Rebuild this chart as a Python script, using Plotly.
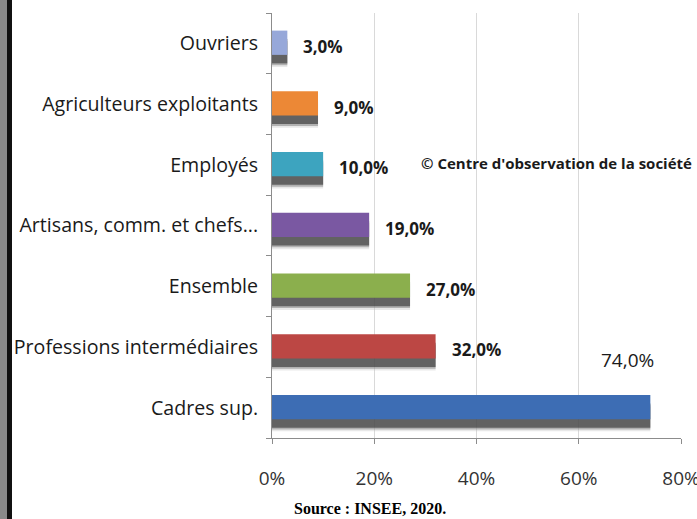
import plotly.graph_objects as go

categories = ["Cadres sup.", "Professions intermédiaires", "Ensemble",
              "Artisans, comm. et chefs...", "Employés", "Agriculteurs exploitants", "Ouvriers"]
values = [74, 32, 27, 19, 10, 9, 3]
colors = ["#3D6DB4", "#BC4744", "#8BAF4D", "#7A58A2", "#3DA4BF", "#EC8836", "#97A8D9"]
tick_vals = [0, 20, 40, 60, 80]
tick_text = ["0%", "20%", "40%", "60%", "80%"]
value_labels = ["74,0%", "32,0%", "27,0%", "19,0%", "10,0%", "9,0%", "3,0%"]

W, H = 697, 519
L, R, T, B = 272, 16, 13, 81
pw = W - L - R
ph = H - T - B

FONT = "Open Sans"
fig = go.Figure()

# blurred shadow layers
for off, col in [(-0.39, "rgba(190,190,190,0.35)"), (-0.36, "rgba(110,110,110,0.45)"),
                 (-0.33, "rgba(55,55,55,0.65)")]:
    fig.add_trace(go.Bar(x=values, y=categories, orientation="h", width=0.40, offset=off,
                         marker=dict(color=col, line=dict(width=0)),
                         hoverinfo="skip", showlegend=False))
fig.add_trace(go.Bar(x=values, y=categories, orientation="h", width=0.40, offset=-0.19,
                     marker=dict(color=colors, line=dict(width=0)), showlegend=False))

annotations = []
vmax = max(values)
for c, v, t in zip(categories, values, value_labels):
    if v == vmax:
        annotations.append(dict(x=v, y=c, text=t, showarrow=False, xanchor="right",
                                xshift=6, yshift=48,
                                font=dict(family=FONT, size=19, color="#1a1a1a")))
    else:
        annotations.append(dict(x=v, y=c, text="<b>%s</b>" % t, showarrow=False, xanchor="left",
                                xshift=14, yshift=-3,
                                font=dict(family=FONT, size=17, color="#1a1a1a")))

annotations.append(dict(x=(556 - L) / pw, y=(438 - 163) / ph, xref="paper", yref="paper",
                        xanchor="center", yanchor="middle",
                        text="<b>© Centre d'observation de la société</b>", showarrow=False,
                        font=dict(family=FONT, size=15, color="#1a1a1a")))
annotations.append(dict(x=(370 - L) / pw, y=(438 - 508) / ph, xref="paper", yref="paper",
                        xanchor="center", yanchor="middle",
                        text="<b>Source : INSEE, 2020.</b>", showarrow=False,
                        font=dict(family="Liberation Serif", size=16, color="#000000")))

shapes = [
    dict(type="rect", xref="paper", yref="paper", x0=(-6 - L) / pw, x1=(7 - L) / pw,
         y0=(438 - 530) / ph, y1=(438 + 10) / ph, fillcolor="#8a8a8a", line=dict(width=0), layer="above"),
    dict(type="rect", xref="paper", yref="paper", x0=(7 - L) / pw, x1=(12 - L) / pw,
         y0=(438 - 530) / ph, y1=(438 + 10) / ph, fillcolor="#111111", line=dict(width=0), layer="above"),
]

fig.update_layout(
    width=W, height=H, margin=dict(l=L, r=R, t=T, b=B, autoexpand=False),
    paper_bgcolor="white", plot_bgcolor="white", barmode="overlay",
    annotations=annotations, shapes=shapes,
    xaxis=dict(range=[0, 80], tickvals=tick_vals, ticktext=tick_text, showgrid=True,
               gridcolor="#d9d9d9", gridwidth=1, zeroline=False, showline=True,
               linecolor="#8c8c8c", ticks="outside", ticklen=5, tickcolor="#8c8c8c",
               tickfont=dict(family=FONT, size=19, color="#333333"), ticklabelstandoff=18,
               ticklabeloverflow="allow", automargin=False),
    yaxis=dict(categoryorder="array", categoryarray=categories, showline=True,
               linecolor="#8c8c8c", ticks="outside", ticklen=5, tickcolor="#8c8c8c",
               tickson="boundaries", showgrid=False, automargin=False,
               tickfont=dict(family=FONT, size=19.6, color="#1a1a1a"), ticklabelstandoff=9,
               range=[-0.5, 6.5]),
)
fig.write_html("out.html", config={"displayModeBar": False},
               post_script="document.body.style.margin='0';document.body.style.overflow='hidden';")
